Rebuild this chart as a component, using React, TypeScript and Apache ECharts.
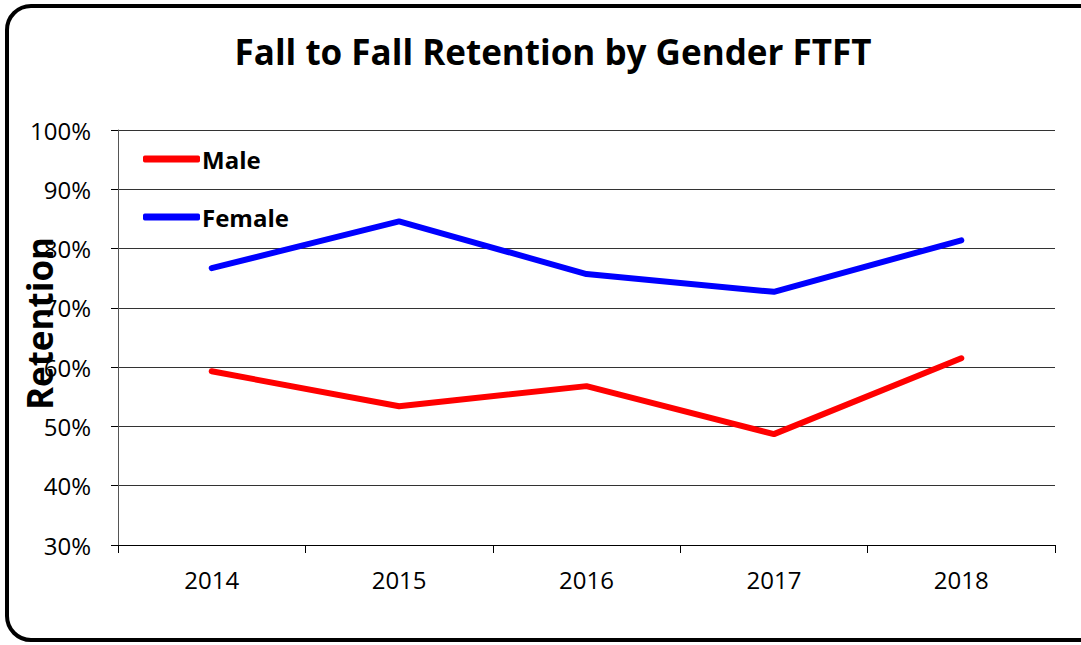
import React, { useEffect, useRef } from "react";
import * as echarts from "echarts";

const years = ["2014", "2015", "2016", "2017", "2018"];
const male = [59.3, 53.4, 56.8, 48.7, 61.5];
const female = [76.7, 84.6, 75.7, 72.7, 81.4];
const yMin = 30;
const yMax = 100;
const yStep = 10;

const FONT = "'Open Sans', sans-serif";

export default function App() {
  const ref = useRef<HTMLDivElement>(null);
  useEffect(() => {
    if (!ref.current) return;
    const chart = echarts.init(ref.current, null, { renderer: "svg" });
    chart.setOption({
      animation: false,
      backgroundColor: "#fff",
      title: {
        text: "Fall to Fall Retention by Gender FTFT",
        left: 548,
        top: 29,
        textAlign: "center",
        textStyle: { fontFamily: FONT, fontSize: 35, fontWeight: "bold", color: "#000" },
      },
      graphic: [
        {
          type: "rect",
          shape: { x: 7, y: 6, width: 1110, height: 634, r: 24 },
          style: { fill: "none", stroke: "#000", lineWidth: 4 },
          z: 100,
        },
      ],
      legend: {
        orient: "vertical",
        left: 138,
        top: 142,
        itemGap: 34,
        itemWidth: 57,
        itemHeight: 7,
        icon: "roundRect",
        textStyle: { fontFamily: FONT, fontSize: 24, fontWeight: "bold", color: "#000", padding: [0, 0, 0, -3] },
        data: ["Male", "Female"],
      },
      grid: { left: 118, right: 26, top: 130, bottom: 100, containLabel: false, outerBoundsMode: "none" },
      xAxis: {
        type: "category",
        data: years,
        boundaryGap: true,
        axisLine: { show: true, lineStyle: { color: "#000", width: 1 } },
        axisTick: { show: true, length: 8, inside: false, lineStyle: { color: "#000" } },
        axisLabel: { fontFamily: FONT, fontSize: 24, color: "#000", margin: 22 },
      },
      yAxis: {
        type: "value",
        min: yMin,
        max: yMax,
        interval: yStep,
        name: "Retention",
        nameLocation: "middle",
        nameRotate: 90,
        nameGap: 61,
        nameMoveOverlap: false,
        nameTextStyle: {
          fontFamily: FONT,
          fontSize: 35,
          fontWeight: "bold",
          color: "#000",
          padding: [0, 0, 0, 28],
        },
        axisLine: { show: true, lineStyle: { color: "#555", width: 1 } },
        axisTick: { show: true, length: 7, lineStyle: { color: "#000" } },
        axisLabel: { fontFamily: FONT, fontSize: 24, color: "#000", margin: 27, formatter: "{value}%" },
        splitLine: { show: true, lineStyle: { color: "#333", width: 1 } },
      },
      series: [
        {
          name: "Male",
          type: "line",
          data: male,
          symbol: "none",
          lineStyle: { color: "#ff0000", width: 6, cap: "round" },
          itemStyle: { color: "#ff0000" },
        },
        {
          name: "Female",
          type: "line",
          data: female,
          symbol: "none",
          lineStyle: { color: "#0000ff", width: 6, cap: "round" },
          itemStyle: { color: "#0000ff" },
        },
      ],
    });
    return () => chart.dispose();
  }, []);
  return (
    <div
      ref={ref}
      style={{ position: "fixed", left: 0, top: 0, width: 1081, height: 645 }}
    />
  );
}
